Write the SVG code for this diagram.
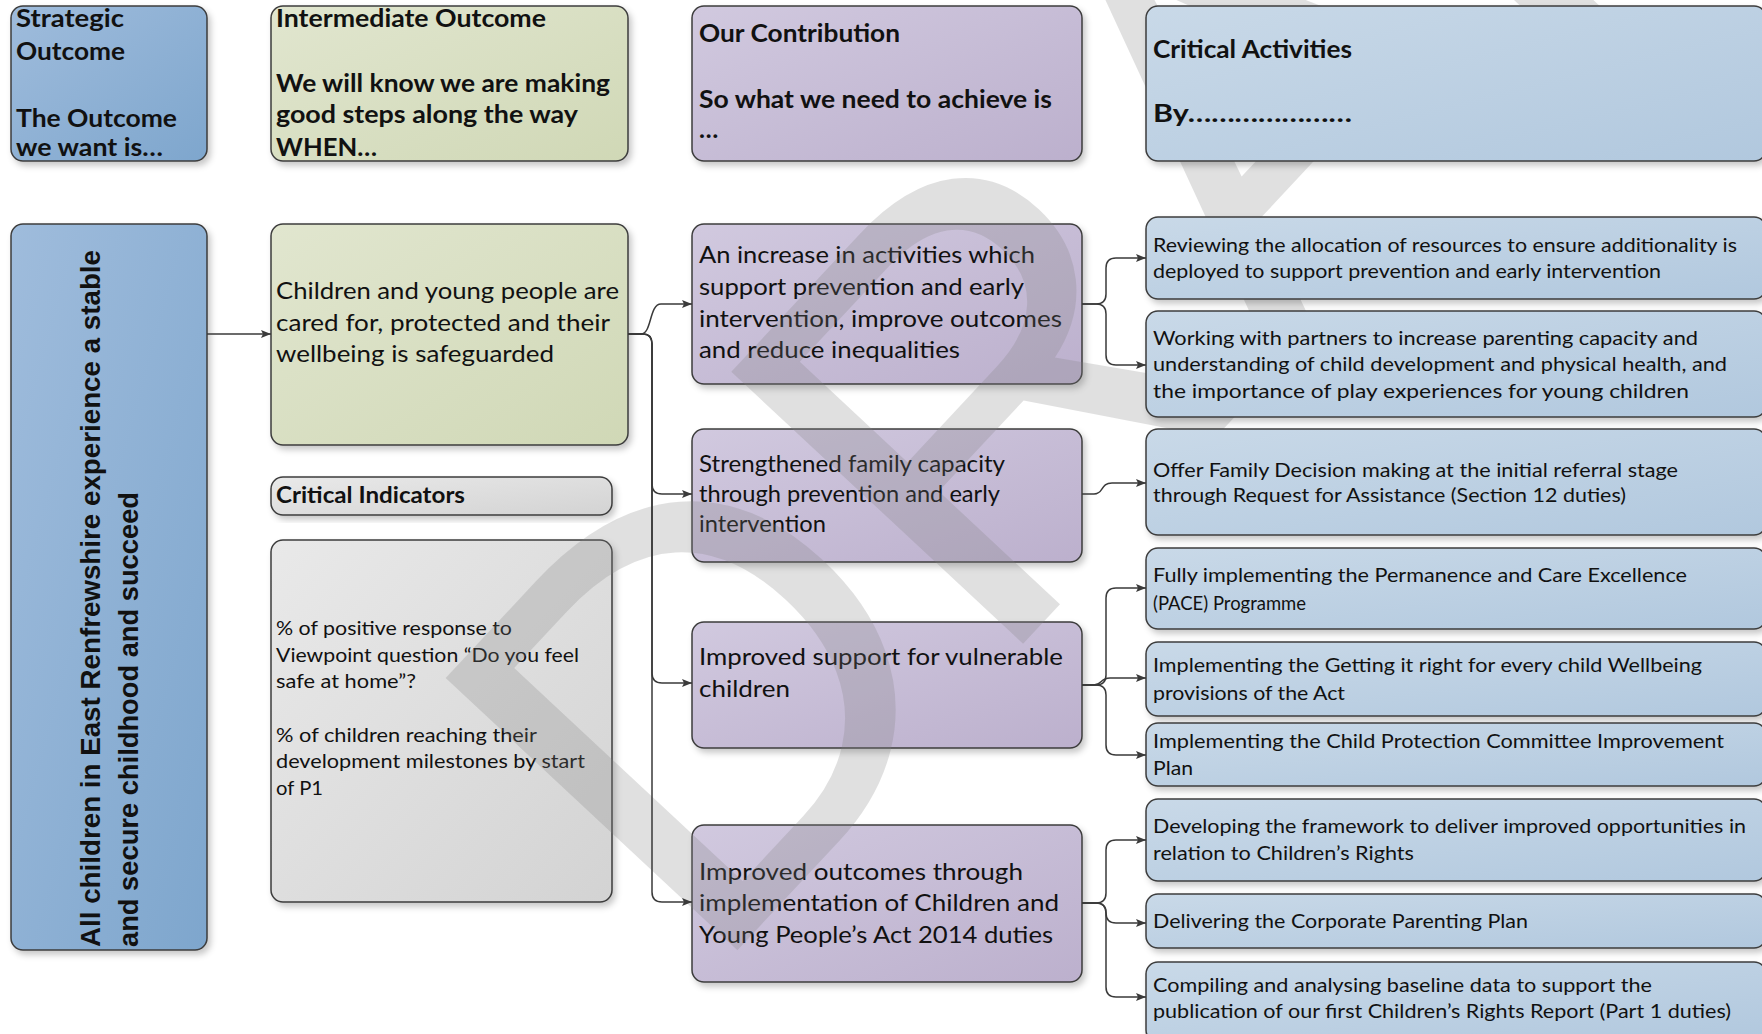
<svg xmlns="http://www.w3.org/2000/svg" width="1762" height="1034" viewBox="0 0 1762 1034">
<defs>
<linearGradient id="gBlue" x1="0" y1="0" x2="1" y2="1"><stop offset="0" stop-color="#9fbcdc"/><stop offset="1" stop-color="#7ea6cd"/></linearGradient>
<linearGradient id="gGreen" x1="0" y1="0" x2="1" y2="1"><stop offset="0" stop-color="#e1e6cf"/><stop offset="1" stop-color="#d0d8b6"/></linearGradient>
<linearGradient id="gPurple" x1="0" y1="0" x2="1" y2="1"><stop offset="0" stop-color="#d1c9df"/><stop offset="1" stop-color="#bcb0cd"/></linearGradient>
<linearGradient id="gLight" x1="0" y1="0" x2="1" y2="1"><stop offset="0" stop-color="#c9d9e8"/><stop offset="1" stop-color="#b1c8de"/></linearGradient>
<linearGradient id="gGrey" x1="0" y1="0" x2="1" y2="1"><stop offset="0" stop-color="#e9e9e9"/><stop offset="1" stop-color="#d3d3d3"/></linearGradient>
<filter id="sh" x="-5%" y="-5%" width="115%" height="125%"><feDropShadow dx="3" dy="4" stdDeviation="3" flood-color="#000" flood-opacity="0.22"/></filter>
<marker id="arr" viewBox="0 0 10 10" refX="10" refY="5" markerWidth="11" markerHeight="10" markerUnits="userSpaceOnUse" orient="auto"><path d="M0,1 L10,5 L0,9 L2,5 z" fill="#3a3a3a"/></marker>
<style>
.box{stroke:#3c3c3c;stroke-width:1.5;filter:url(#sh)}
.blue{fill:url(#gBlue)}.green{fill:url(#gGreen)}.purple{fill:url(#gPurple)}.light{fill:url(#gLight)}.grey{fill:url(#gGrey)}
.hd{font-family:Lato,"Liberation Sans",sans-serif;font-weight:700;font-size:25px;fill:#111}
.bd{font-family:Lato,"Liberation Sans",sans-serif;font-size:24px;fill:#111}
.sm{font-family:Lato,"Liberation Sans",sans-serif;font-size:20px;fill:#111}
.ci{font-family:Lato,"Liberation Sans",sans-serif;font-weight:700;font-size:22px;fill:#111}
.vt{font-family:"Liberation Sans",Arial,sans-serif;font-weight:700;font-size:28px;fill:#111}
.con{fill:none;stroke:#3a3a3a;stroke-width:1.5;marker-end:url(#arr)}
.wm{font-family:"Liberation Sans",Arial,sans-serif;font-size:580px;fill:#808080;opacity:0.24}
</style>
</defs>
<rect width="1762" height="1034" fill="#ffffff"/>

<g id="hdr-strategic"><rect class="box blue" x="11" y="6" width="196" height="155" rx="12"/>
<text class="hd" x="16" y="27" textLength="108" lengthAdjust="spacingAndGlyphs">Strategic</text>
<text class="hd" x="16" y="60" textLength="109" lengthAdjust="spacingAndGlyphs">Outcome</text>
<text class="hd" x="16" y="127" textLength="161" lengthAdjust="spacingAndGlyphs">The Outcome</text>
<text class="hd" x="16" y="156" textLength="147" lengthAdjust="spacingAndGlyphs">we want is…</text></g>

<g id="hdr-intermediate"><rect class="box green" x="271" y="6" width="357" height="155" rx="12"/>
<text class="hd" x="276" y="27" textLength="270" lengthAdjust="spacingAndGlyphs">Intermediate Outcome</text>
<text class="hd" x="276" y="92" textLength="334" lengthAdjust="spacingAndGlyphs">We will know we are making</text>
<text class="hd" x="276" y="123" textLength="302" lengthAdjust="spacingAndGlyphs">good steps along the way</text>
<text class="hd" x="276" y="156" textLength="101" lengthAdjust="spacingAndGlyphs">WHEN…</text></g>

<g id="hdr-contribution"><rect class="box purple" x="692" y="6" width="390" height="155" rx="12"/>
<text class="hd" x="699" y="42" textLength="201" lengthAdjust="spacingAndGlyphs">Our Contribution</text>
<text class="hd" x="699" y="108" textLength="353" lengthAdjust="spacingAndGlyphs">So what we need to achieve is</text>
<text class="hd" x="699" y="138">…</text></g>

<g id="strategic"><rect class="box blue" x="11" y="224" width="196" height="726" rx="12"/>
<text class="vt" transform="translate(100,947) rotate(-90)" textLength="697" lengthAdjust="spacingAndGlyphs">All children in East Renfrewshire experience a stable</text>
<text class="vt" transform="translate(138,947) rotate(-90)" textLength="455" lengthAdjust="spacingAndGlyphs">and secure childhood and succeed</text></g>

<g id="intermediate"><rect class="box green" x="271" y="224" width="357" height="221" rx="12"/>
<text class="bd" x="276" y="299" textLength="343" lengthAdjust="spacingAndGlyphs">Children and young people are</text>
<text class="bd" x="276" y="331" textLength="334" lengthAdjust="spacingAndGlyphs">cared for, protected and their</text>
<text class="bd" x="276" y="362" textLength="278" lengthAdjust="spacingAndGlyphs">wellbeing is safeguarded</text></g>

<g id="critical-indicators"><rect class="box grey" x="271" y="477" width="341" height="38" rx="12"/>
<text class="ci" x="276" y="503" textLength="189" lengthAdjust="spacingAndGlyphs">Critical Indicators</text></g>

<g id="indicators"><rect class="box grey" x="271" y="540" width="341" height="362" rx="12"/>
<text class="sm" x="276" y="635" textLength="236" lengthAdjust="spacingAndGlyphs">% of positive response to</text>
<text class="sm" x="276" y="662" textLength="303" lengthAdjust="spacingAndGlyphs">Viewpoint question “Do you feel</text>
<text class="sm" x="276" y="688" textLength="140" lengthAdjust="spacingAndGlyphs">safe at home”?</text>
<text class="sm" x="276" y="742" textLength="261" lengthAdjust="spacingAndGlyphs">% of children reaching their</text>
<text class="sm" x="276" y="768" textLength="309" lengthAdjust="spacingAndGlyphs">development milestones by start</text>
<text class="sm" x="276" y="795" textLength="47" lengthAdjust="spacingAndGlyphs">of P1</text></g>

<g id="contribution-1"><rect class="box purple" x="692" y="224" width="390" height="160" rx="12"/>
<text class="bd" x="699" y="263" textLength="336" lengthAdjust="spacingAndGlyphs">An increase in activities which</text>
<text class="bd" x="699" y="295" textLength="325" lengthAdjust="spacingAndGlyphs">support prevention and early</text>
<text class="bd" x="699" y="327" textLength="363" lengthAdjust="spacingAndGlyphs">intervention, improve outcomes</text>
<text class="bd" x="699" y="358" textLength="261" lengthAdjust="spacingAndGlyphs">and reduce inequalities</text></g>

<g id="contribution-2"><rect class="box purple" x="692" y="429" width="390" height="133" rx="12"/>
<text class="bd" x="699" y="472" textLength="306" lengthAdjust="spacingAndGlyphs">Strengthened family capacity</text>
<text class="bd" x="699" y="502" textLength="301" lengthAdjust="spacingAndGlyphs">through prevention and early</text>
<text class="bd" x="699" y="532" textLength="127" lengthAdjust="spacingAndGlyphs">intervention</text></g>

<g id="contribution-3"><rect class="box purple" x="692" y="622" width="390" height="126" rx="12"/>
<text class="bd" x="699" y="665" textLength="364" lengthAdjust="spacingAndGlyphs">Improved support for vulnerable</text>
<text class="bd" x="699" y="697" textLength="91" lengthAdjust="spacingAndGlyphs">children</text></g>

<g id="contribution-4"><rect class="box purple" x="692" y="825" width="390" height="157" rx="12"/>
<text class="bd" x="699" y="880" textLength="324" lengthAdjust="spacingAndGlyphs">Improved outcomes through</text>
<text class="bd" x="699" y="911" textLength="360" lengthAdjust="spacingAndGlyphs">implementation of Children and</text>
<text class="bd" x="699" y="943" textLength="354" lengthAdjust="spacingAndGlyphs">Young People’s Act 2014 duties</text></g>

<g id="watermark">
<text class="wm" transform="translate(705,985) rotate(-47)">DRAFT</text>
</g>

<g id="hdr-activities"><rect class="box light" x="1146" y="6" width="620" height="155" rx="12"/>
<text class="hd" x="1153" y="58" textLength="199" lengthAdjust="spacingAndGlyphs">Critical Activities</text>
<text class="hd" x="1153" y="122" textLength="199" lengthAdjust="spacingAndGlyphs">By…………………</text></g>

<g id="activity-a"><rect class="box light" x="1146" y="217" width="620" height="82" rx="12"/>
<text class="sm" x="1153" y="252" textLength="584" lengthAdjust="spacingAndGlyphs">Reviewing the allocation of resources to ensure additionality is</text>
<text class="sm" x="1153" y="278" textLength="508" lengthAdjust="spacingAndGlyphs">deployed to support prevention and early intervention</text></g>

<g id="activity-b"><rect class="box light" x="1146" y="311" width="620" height="106" rx="12"/>
<text class="sm" x="1153" y="345" textLength="545" lengthAdjust="spacingAndGlyphs">Working with partners to increase parenting capacity and</text>
<text class="sm" x="1153" y="371" textLength="574" lengthAdjust="spacingAndGlyphs">understanding of child development and physical health, and</text>
<text class="sm" x="1153" y="398" textLength="536" lengthAdjust="spacingAndGlyphs">the importance of play experiences for young children</text></g>

<g id="activity-c"><rect class="box light" x="1146" y="429" width="620" height="106" rx="12"/>
<text class="sm" x="1153" y="477" textLength="525" lengthAdjust="spacingAndGlyphs">Offer Family Decision making at the initial referral stage</text>
<text class="sm" x="1153" y="502" textLength="473" lengthAdjust="spacingAndGlyphs">through Request for Assistance (Section 12 duties)</text></g>

<g id="activity-d"><rect class="box light" x="1146" y="548" width="620" height="81" rx="12"/>
<text class="sm" x="1153" y="582" textLength="534" lengthAdjust="spacingAndGlyphs">Fully implementing the Permanence and Care Excellence</text>
<text class="sm" x="1153" y="610" textLength="153" lengthAdjust="spacingAndGlyphs">(PACE) Programme</text></g>

<g id="activity-e"><rect class="box light" x="1146" y="642" width="620" height="74" rx="12"/>
<text class="sm" x="1153" y="672" textLength="549" lengthAdjust="spacingAndGlyphs">Implementing the Getting it right for every child Wellbeing</text>
<text class="sm" x="1153" y="700" textLength="192" lengthAdjust="spacingAndGlyphs">provisions of the Act</text></g>

<g id="activity-f"><rect class="box light" x="1146" y="723" width="620" height="63" rx="12"/>
<text class="sm" x="1153" y="748" textLength="571" lengthAdjust="spacingAndGlyphs">Implementing the Child Protection Committee Improvement</text>
<text class="sm" x="1153" y="775" textLength="40" lengthAdjust="spacingAndGlyphs">Plan</text></g>

<g id="activity-g"><rect class="box light" x="1146" y="799" width="620" height="82" rx="12"/>
<text class="sm" x="1153" y="833" textLength="593" lengthAdjust="spacingAndGlyphs">Developing the framework to deliver improved opportunities in</text>
<text class="sm" x="1153" y="860" textLength="261" lengthAdjust="spacingAndGlyphs">relation to Children’s Rights</text></g>

<g id="activity-h"><rect class="box light" x="1146" y="894" width="620" height="54" rx="12"/>
<text class="sm" x="1153" y="928" textLength="375" lengthAdjust="spacingAndGlyphs">Delivering the Corporate Parenting Plan</text></g>

<g id="activity-i"><rect class="box light" x="1146" y="962" width="620" height="80" rx="12"/>
<text class="sm" x="1153" y="992" textLength="499" lengthAdjust="spacingAndGlyphs">Compiling and analysing baseline data to support the</text>
<text class="sm" x="1153" y="1018" textLength="578" lengthAdjust="spacingAndGlyphs">publication of our first Children’s Rights Report (Part 1 duties)</text></g>

<g id="connectors">
<path class="con" d="M207,334 H271"/>
<path class="con" d="M628,334 H641 C652,334 649,304 661,304 H692"/>
<path class="con" d="M628,334 H643 Q652,334 652,344 V484 Q652,494 662,494 H692"/>
<path class="con" d="M628,334 H643 Q652,334 652,344 V673 Q652,683 662,683 H692"/>
<path class="con" d="M628,334 H643 Q652,334 652,344 V892 Q652,902 662,902 H692"/>
<path class="con" d="M1082,304 H1096 Q1106,304 1106,294 V268 Q1106,258 1116,258 H1146"/>
<path class="con" d="M1082,304 H1096 Q1106,304 1106,314 V355 Q1106,365 1116,365 H1146"/>
<path class="con" d="M1082,494 H1094 C1104,494 1100,483 1112,483 H1146"/>
<path class="con" d="M1082,685 H1096 Q1106,685 1106,675 V598 Q1106,588 1116,588 H1146"/>
<path class="con" d="M1082,685 H1094 C1102,685 1100,678 1110,678 H1146"/>
<path class="con" d="M1082,685 H1096 Q1106,685 1106,695 V745 Q1106,755 1116,755 H1146"/>
<path class="con" d="M1082,903 H1096 Q1106,903 1106,893 V850 Q1106,840 1116,840 H1146"/>
<path class="con" d="M1082,903 H1096 Q1106,903 1106,913 Q1106,923 1116,923 H1146"/>
<path class="con" d="M1082,903 H1096 Q1106,903 1106,913 V987 Q1106,997 1116,997 H1146"/>
</g>
</svg>
